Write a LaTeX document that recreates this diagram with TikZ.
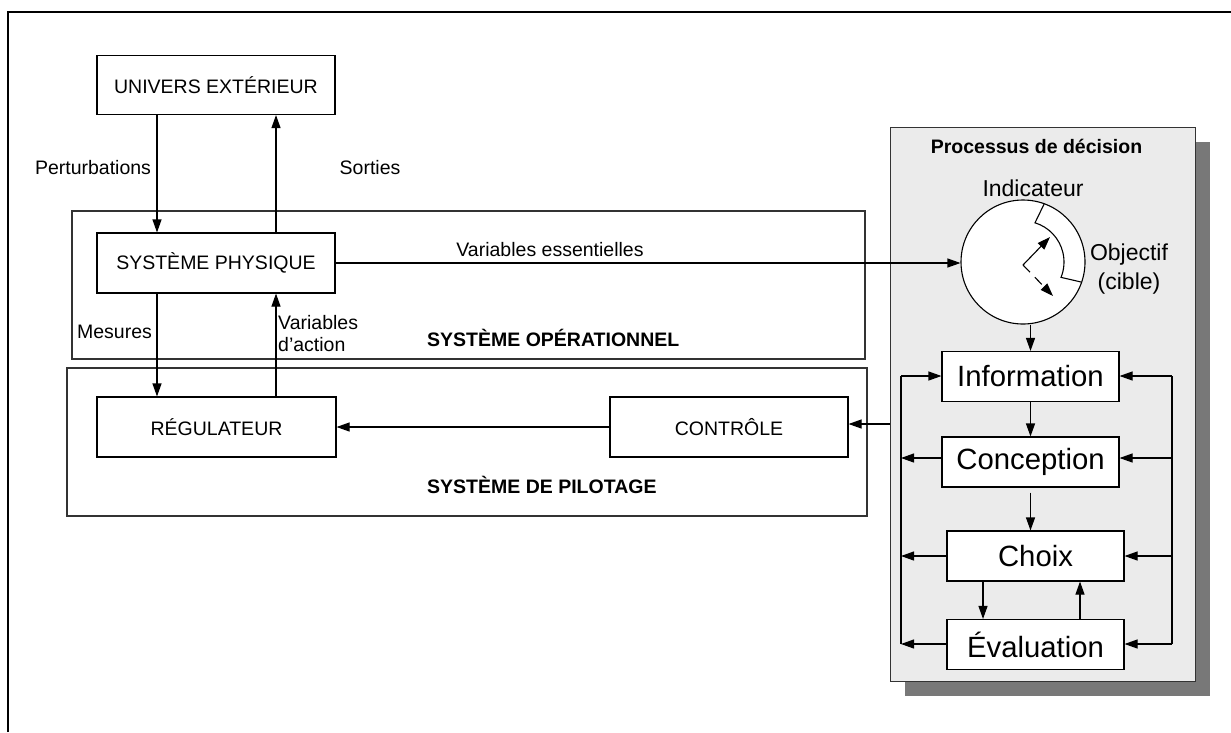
\documentclass[tikz,border=0pt]{standalone}
\usepackage{fontspec}
\setmainfont{Liberation Sans}
\usetikzlibrary{arrows.meta,calc}
\begin{document}
\begin{tikzpicture}[x=1pt,y=-1pt,
  box/.style={draw=black,line width=1.1pt,fill=white,inner sep=0pt,font=\fontsize{19.5}{23}\selectfont},
  pbox/.style={draw=black,line width=1.1pt,fill=white,inner sep=0pt,minimum width=177pt,minimum height=50pt,font=\fontsize{29.3}{34}\selectfont},
  cont/.style={draw=black!80,line width=1.1pt,inner sep=0pt},
  arr/.style={line width=1.1pt,-{Triangle[length=13pt,width=9pt]}},
  ln/.style={line width=1.1pt},
  lbl/.style={font=\fontsize{19.5}{23}\selectfont,inner sep=0pt},
  blbl/.style={font=\bfseries\fontsize{19.5}{23}\selectfont,inner sep=0pt},
  clbl/.style={font=\fontsize{23}{28}\selectfont,inner sep=0pt}]
\useasboundingbox (0,0) rectangle (1231,732);
% outer frame
\draw[line width=2.2pt] (8,732) -- (8,12) -- (1231,12);

% containers
\node[cont,minimum width=793pt,minimum height=148pt] (op) at (468.5,285) {};
\node[cont,minimum width=800pt,minimum height=148pt] (pil) at (467,442) {};
\node[blbl,anchor=west] (opl) at (427,338) {SYSTÈME OPÉRATIONNEL};
\node[blbl,anchor=west] (pill) at (427,485) {SYSTÈME DE PILOTAGE};

% left boxes
\node[box,minimum width=238pt,minimum height=59pt] (ue) at (216,85) {UNIVERS EXTÉRIEUR};
\node[box,minimum width=238pt,minimum height=60pt] (sp) at (216,263) {SYSTÈME PHYSIQUE};
\node[box,minimum width=239pt,minimum height=60pt] (reg) at (216.5,427) {RÉGULATEUR};
\node[box,minimum width=238pt,minimum height=60pt] (ctl) at (729,427) {CONTRÔLE};

\coordinate (px) at (157,0);
\coordinate (sx) at (276,0);

\draw[arr] (ue.south -| px) -- (sp.north -| px);
\draw[arr] (sp.north -| sx) -- (ue.south -| sx);
\draw[arr] (sp.south -| px) -- (reg.north -| px);
\draw[arr] (reg.north -| sx) -- (sp.south -| sx);
\draw[arr] (ctl.west) -- (reg.east);

\node[lbl] (pert) at (93,168) {Perturbations};
\node[lbl] (sort) at (370,168) {Sorties};
\node[lbl] (mes) at (114.5,332) {Mesures};
\node[lbl,anchor=west,align=left] (vact) at (278,334) {Variables\\[-1pt]d’action};

% decision panel
\node[fill=black!53,minimum width=305pt,minimum height=554pt,inner sep=0pt] (shadow) at (1057.5,419) {};
\node[draw=black!80,line width=1pt,fill=black!8,minimum width=305pt,minimum height=554pt,inner sep=0pt] (panel) at (1042.5,404) {};
\node[blbl] (ptitle) at (1036.5,146) {Processus de décision};

\node[circle,draw=black,line width=1.1pt,fill=white,minimum size=124pt,inner sep=0pt] (circ) at (1023,262) {};
\draw[ln] ([shift={(-70:61.5)}]circ.center) -- ([shift={(-73:41)}]circ.center)
   arc[start angle=-73, end angle=22, radius=41] -- ([shift={(19:61.5)}]circ.center);
\coordinate (cc) at (1023,265);
\coordinate (ca) at (1050,237);
\coordinate (cb) at (1053,296);
\draw[arr] (cc) -- (ca);
\draw[arr,dash pattern=on 10pt off 7pt] (cc) -- (cb);
\node[clbl] (ind) at (1033,188) {Indicateur};
\node[clbl,align=center] (obj) at (1129,269) {Objectif\\[1pt](cible)};

\node[pbox] (info) at (1030.5,376.5) {Information};
\node[pbox] (conc) at (1030.5,462) {Conception};
\node[pbox] (choix) at (1035.5,556) {Choix};
\node[pbox] (eval) at (1035.5,644.5) {Évaluation};

\draw[arr] (sp.east) -- (sp.east -| circ.west);
\node[lbl] (vess) at (550,250) {Variables essentielles};

\draw[arr] (circ.south -| info.north) -- (info.north);
\draw[arr] (info.south) -- (conc.north);
\draw[arr] (conc.south) ++(0,5) -- (conc.south |- choix.north);
\coordinate (dx) at (983,0);
\coordinate (ux) at (1080,0);
\draw[arr] (choix.south -| dx) -- (eval.north -| dx);
\draw[arr] (eval.north -| ux) -- (choix.south -| ux);

% left loop
\coordinate (lx) at (901,0);
\coordinate (rx) at (1172,0);
\coordinate (yi) at (0,376);
\coordinate (yc) at (0,458);
\coordinate (ych) at (0,556);
\coordinate (ye) at (0,644);
\draw[ln] (lx |- ye) -- (lx |- yi);
\draw[arr] (lx |- yi) -- (info.west |- yi);
\draw[arr] (conc.west |- yc) -- (lx |- yc);
\draw[arr] (choix.west |- ych) -- (lx |- ych);
\draw[arr] (eval.west |- ye) -- (lx |- ye);
% right loop
\draw[ln] (rx |- yi) -- (rx |- ye);
\draw[arr] (rx |- yi) -- (info.east |- yi);
\draw[arr] (rx |- yc) -- (conc.east |- yc);
\draw[arr] (rx |- ych) -- (choix.east |- ych);
\draw[arr] (rx |- ye) -- (eval.east |- ye);

% panel to control
\draw[arr] (panel.west |- 0,424) -- (ctl.east |- 0,424);
\end{tikzpicture}
\end{document}
